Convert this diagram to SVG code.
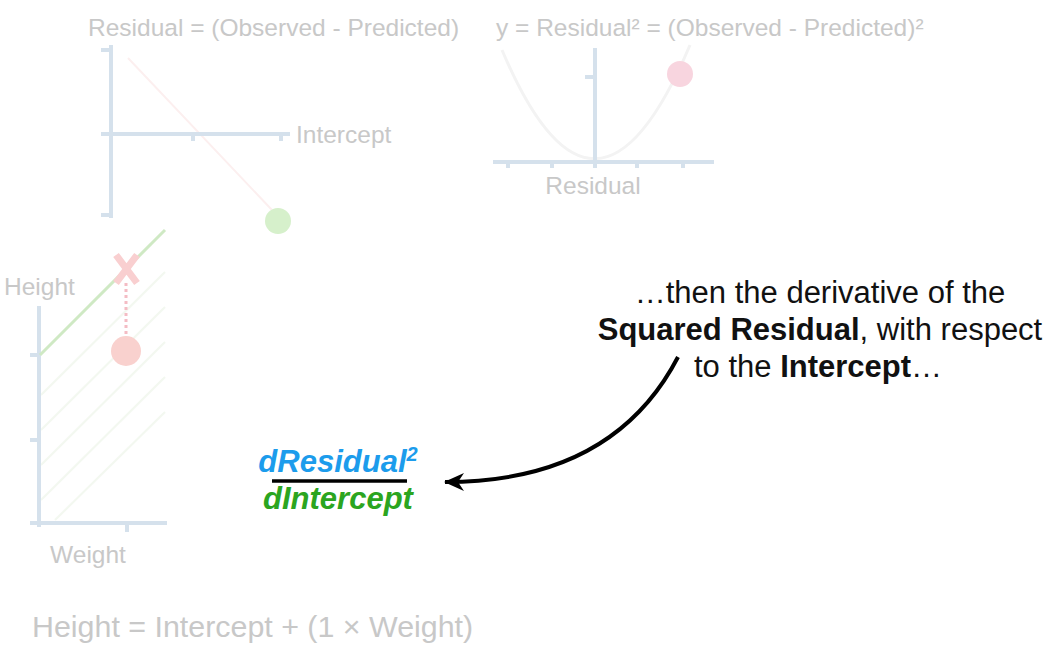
<svg xmlns="http://www.w3.org/2000/svg" width="1060" height="659" viewBox="0 0 1060 659">
<defs>
<style>
.faint{font-family:"Liberation Sans",Arial,sans-serif;fill:#c8c8c8;font-size:24.5px}
.axis{stroke:#d5e1ec;stroke-width:4;fill:none}
.main{font-family:"Liberation Sans",Arial,sans-serif;fill:#111;font-size:31px;text-anchor:middle}
.frac{font-family:"Liberation Sans",Arial,sans-serif;font-size:31px;font-weight:bold;font-style:italic;text-anchor:middle}
</style>
<marker id="ah" viewBox="0 0 20 18" refX="19" refY="9" markerWidth="20" markerHeight="18" orient="auto" markerUnits="userSpaceOnUse">
<path d="M0,0 L20,9 L0,18 L6,9 Z" fill="#000"/>
</marker>
</defs>
<rect width="1060" height="659" fill="#fff"/>

<g id="residual-chart">
<text class="faint" x="88" y="36">Residual = (Observed - Predicted)</text>
<line x1="128" y1="58" x2="272" y2="210" stroke="#fcefef" stroke-width="2"/>
<path class="axis" d="M111,45 V218 M101,50 H111 M101,215 H111 M101,134 H290 M193,134 V141 M281,134 V141"/>
<text class="faint" x="296" y="143">Intercept</text>
<circle cx="278" cy="221" r="13" fill="#d6f0cb"/>
</g>

<g id="squared-chart">
<text class="faint" x="496" y="36">y = Residual² = (Observed - Predicted)²</text>
<path d="M502,50 Q595,270 690,45" fill="none" stroke="#f3f3f3" stroke-width="3"/>
<path class="axis" d="M595,48 V162 M585,77 H595 M493,162 H714 M508,162 V168 M552,162 V168 M595,162 V168 M637,162 V168 M683,162 V168"/>
<circle cx="680" cy="74" r="13" fill="#f8d5df"/>
<text class="faint" x="593" y="194" text-anchor="middle">Residual</text>
</g>

<g id="height-weight-chart">
<text class="faint" x="4" y="295">Height</text>
<g stroke="#f3f8f0" stroke-width="2">
<line x1="41" y1="395" x2="165" y2="272"/>
<line x1="41" y1="430" x2="165" y2="307"/>
<line x1="41" y1="465" x2="165" y2="342"/>
<line x1="41" y1="500" x2="165" y2="377"/>
<line x1="55" y1="520" x2="165" y2="412"/>
</g>
<path class="axis" d="M39,306 V527 M30,355 H39 M30,440 H39 M30,523 H167 M127,523 V532"/>
<line x1="40" y1="355" x2="165" y2="230" stroke="#cfe9c4" stroke-width="3"/>
<line x1="126" y1="283" x2="126" y2="340" stroke="#f4bcc4" stroke-width="3" stroke-dasharray="3,3"/>
<path d="M116,255 L137,283 M137,255 L116,283" stroke="#f9cfd0" stroke-width="7"/>
<circle cx="126" cy="351" r="15" fill="#f9d1ce"/>
<text class="faint" x="88" y="563" text-anchor="middle">Weight</text>
</g>

<g id="equation">
<text class="faint" x="32" y="637" style="font-size:30.4px">Height = Intercept + (1 × Weight)</text>
</g>

<g id="derivative">
<text class="frac" x="338" y="472" fill="#1c9cec">dResidual<tspan font-size="20" dy="-11">2</tspan></text>
<line x1="272" y1="481" x2="407" y2="481" stroke="#000" stroke-width="3.5"/>
<text class="frac" x="338" y="509" fill="#2ba520">dIntercept</text>
</g>

<g id="caption">
<text class="main" x="820" y="303">…then the derivative of the</text>
<text class="main" x="820" y="340"><tspan font-weight="bold">Squared Residual</tspan>, with respect</text>
<text class="main" x="818" y="377">to the <tspan font-weight="bold">Intercept</tspan>…</text>
</g>

<g id="connectors">
<path d="M678,357 C640,430 570,482 445,482" fill="none" stroke="#000" stroke-width="4" marker-end="url(#ah)"/>
</g>
</svg>
